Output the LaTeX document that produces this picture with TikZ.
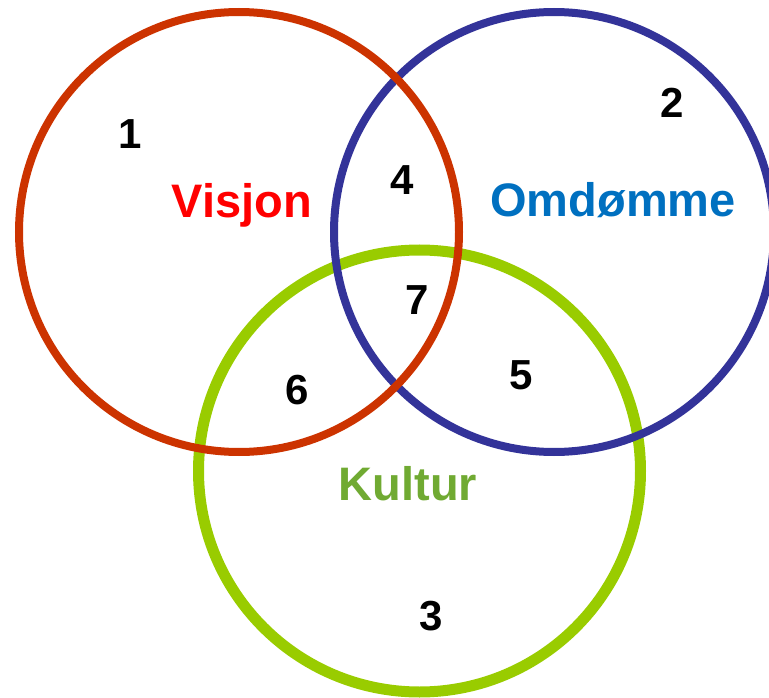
\documentclass[tikz,border=0pt]{standalone}
\usepackage{fontspec}
\setmainfont{Liberation Sans}
\usetikzlibrary{positioning}
\definecolor{visjonring}{RGB}{204,51,0}
\definecolor{omdommering}{RGB}{51,51,153}
\definecolor{kulturring}{RGB}{153,204,0}
\definecolor{visjontext}{RGB}{255,0,0}
\definecolor{omdommetext}{RGB}{0,112,192}
\definecolor{kulturtext}{RGB}{112,170,50}

\begin{document}
\begin{tikzpicture}[
    x=1pt, y=-1pt,
    ring/.style={line width=8pt},
    set_text/.style={anchor=base, font=\fontsize{47}{52}\selectfont\bfseries},
    num_text/.style={anchor=base, font=\fontsize{42}{48}\selectfont\bfseries, text=black}
]
    \useasboundingbox (0,0) rectangle (769,698);

    % Circles
    \draw[ring, line width=11pt, draw=kulturring] (419.5,471) circle[radius=221pt];
    \draw[ring, draw=omdommering] (554,232) circle[radius=220pt];
    \draw[ring, draw=visjonring] (239,232) circle[radius=220pt];

    % Set names
    \node (visjon) [set_text, text=visjontext] at (242,218) {Visjon};
    \node (omdomme) [set_text, text=omdommetext] at (613,217) {Omdømme};
    \node (kultur) [set_text, text=kulturtext] at (408,500) {Kultur};

    % Regions
    \node (n1) [num_text] at (130,149) {1};
    \node (n2) [num_text] at (672,118) {2};
    \node (n3) [num_text] at (431,630) {3};
    \node (n4) [num_text] at (402,194) {4};
    \node (n5) [num_text] at (521,389) {5};
    \node (n6) [num_text] at (297,404) {6};
    \node (n7) [num_text] at (417,314) {7};

\end{tikzpicture}
\end{document}
